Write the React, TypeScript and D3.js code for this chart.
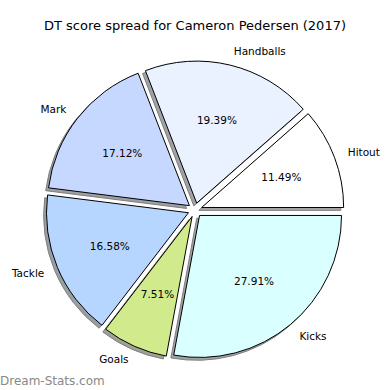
import * as d3 from 'd3';

const labels = ['Hitout', 'Handballs', 'Mark', 'Tackle', 'Goals', 'Kicks'];
const values = [11.49, 19.39, 17.12, 16.58, 7.51, 27.91];
const colors = ['#ffffff', '#eaf1ff', '#c6d8ff', '#b6d6ff', '#d1eb8c', '#d9ffff'];
const title = 'DT score spread for Cameron Pedersen (2017)';
const watermark = 'Dream-Stats.com';

const W = 390;
const H = 390;
const cx = 195;
const cy = 210;
const R = 142;
const explode = 0.05;
const font = '"DejaVu Sans", sans-serif';

export default function App() {
  const total = d3.sum(values);
  // matplotlib style: start at 3 o'clock, counter-clockwise
  const angle = d3.scaleLinear().domain([0, total]).range([0, 2 * Math.PI]);
  const cum = d3.cumsum(values);

  const slices = values.map((v, i) => {
    const a0 = angle(cum[i] - v);
    const a1 = angle(cum[i]);
    const mid = (a0 + a1) / 2;
    const ox = cx + Math.cos(mid) * explode * R;
    const oy = cy - Math.sin(mid) * explode * R;
    const path = d3.arc()({
      innerRadius: 0,
      outerRadius: R,
      startAngle: Math.PI / 2 - a1,
      endAngle: Math.PI / 2 - a0,
    }) as string;
    return { v, i, mid, ox, oy, path };
  });

  const shadowColor = (c: string) => {
    const rgb = d3.rgb(c);
    return d3.rgb(rgb.r * 0.3, rgb.g * 0.3, rgb.b * 0.3).formatHex();
  };
  const sh = 0.02 * R;

  return (
    <svg width={W} height={H} style={{ position: 'absolute', left: 0, top: 0, background: '#fff' }}>
      <rect width={W} height={H} fill="#fff" />
      <text x={W / 2} y={29.5} textAnchor="middle" fontFamily={font} fontSize={13} fill="#000">
        {title}
      </text>

      {/* shadows */}
      {slices.map(s => (
        <path
          key={`sh-${s.i}`}
          d={s.path}
          transform={`translate(${s.ox - sh},${s.oy + sh})`}
          fill={shadowColor(colors[s.i])}
          stroke={shadowColor('#000')}
          strokeWidth={1}
          opacity={0.5}
        />
      ))}

      {/* wedges */}
      {slices.map(s => (
        <path
          key={`w-${s.i}`}
          d={s.path}
          transform={`translate(${s.ox},${s.oy})`}
          fill={colors[s.i]}
          stroke="#000"
          strokeWidth={1}
          strokeLinejoin="round"
        />
      ))}

      {/* labels */}
      {slices.map(s => {
        const x = s.ox + Math.cos(s.mid) * 1.1 * R;
        const y = s.oy - Math.sin(s.mid) * 1.1 * R;
        return (
          <text
            key={`l-${s.i}`}
            x={x}
            y={y}
            textAnchor={Math.cos(s.mid) > 0 ? 'start' : 'end'}
            dominantBaseline="central"
            fontFamily={font}
            fontSize={10.5}
            fill="#000"
          >
            {labels[s.i]}
          </text>
        );
      })}

      {/* percentages */}
      {slices.map(s => (
        <text
          key={`p-${s.i}`}
          x={s.ox + Math.cos(s.mid) * 0.6 * R}
          y={s.oy - Math.sin(s.mid) * 0.6 * R}
          textAnchor="middle"
          dominantBaseline="central"
          fontFamily={font}
          fontSize={10.5}
          fill="#000"
        >
          {`${s.v.toFixed(2)}%`}
        </text>
      ))}

      <text x={0} y={385} fontFamily={font} fontSize={12} fill="#888">
        {watermark}
      </text>
    </svg>
  );
}
